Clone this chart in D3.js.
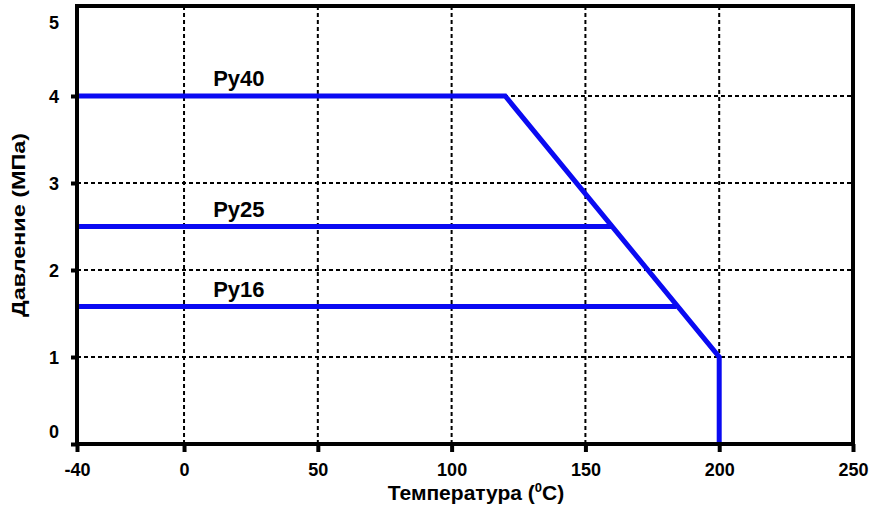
<!DOCTYPE html>
<html><head><meta charset="utf-8">
<script src="https://cdn.jsdelivr.net/npm/d3@7"></script>
<style>body{margin:0;background:#fff;} svg{display:block;} text{font-family:"Liberation Sans",Arial,sans-serif;font-weight:bold;}</style>
</head><body>
<svg id="c" width="871" height="511"></svg>
<script>
const xTicks = [-40, 0, 50, 100, 150, 200, 250];
const yTicks = [0, 1, 2, 3, 4, 5];
const seriesNames = ["Py40", "Py25", "Py16"];
const py40Temp = [-40, 120, 200, 200];
const py40Press = [4, 4, 1, 0];
const py25Temp = [-40, 160];
const py25Press = [2.5, 2.5];
const py16Temp = [-40, 184];
const py16Press = [1.58, 1.58];
const labelTemp = [20.5, 20.5, 20.5];
const labelPress = [4, 2.5, 1.58];
const xTitle = "Температура (";
const yTitle = "Давление (МПа)";

const svg = d3.select("#c");
const L = 77, R = 853, T = 6, B = 444;
const x = d3.scaleLinear().domain([-40, 250]).range([L, R]);
const y = d3.scaleLinear().domain([0, 5]).range([B, 9]);

// grid
svg.append("g").selectAll("line").data(xTicks.filter(d => d > -40 && d < 250)).join("line")
  .attr("x1", d => x(d)).attr("x2", d => x(d)).attr("y1", T).attr("y2", B)
  .attr("stroke", "#000").attr("stroke-width", 2).attr("stroke-dasharray", "4,3");
svg.append("g").selectAll("line").data(yTicks.filter(d => d > 0 && d < 5)).join("line")
  .attr("x1", L).attr("x2", R).attr("y1", d => y(d)).attr("y2", d => y(d))
  .attr("stroke", "#000").attr("stroke-width", 2).attr("stroke-dasharray", "4,3");

// series
const line = d3.line().x(d => x(d[0])).y(d => y(d[1]));
const series = [
  d3.zip(py40Temp, py40Press),
  d3.zip(py25Temp, py25Press),
  d3.zip(py16Temp, py16Press)
];
svg.append("g").selectAll("path").data(series).join("path")
  .attr("d", line).attr("fill", "none").attr("stroke", "#0a0af2")
  .attr("stroke-width", 5).attr("stroke-linejoin", "miter");

// frame
svg.append("rect").attr("x", L).attr("y", T).attr("width", R - L).attr("height", B - T)
  .attr("fill", "none").attr("stroke", "#000").attr("stroke-width", 4);

// axes
const xAxis = d3.axisBottom(x).tickValues(xTicks).tickSize(8).tickFormat(d => String(d));
const gx = svg.append("g").attr("transform", `translate(0,${B})`).call(xAxis);
gx.attr("font-family", null).attr("font-size", null);
gx.select(".domain").remove();
gx.selectAll(".tick line").attr("stroke", "#000").attr("stroke-width", 4);
gx.selectAll(".tick text").attr("font-size", 18).attr("fill", "#000").attr("y", 32).attr("dy", null);

const yAxis = d3.axisLeft(y).tickValues(yTicks).tickSize(6).tickFormat(d => String(d));
const gy = svg.append("g").attr("transform", `translate(${L},0)`).call(yAxis);
gy.attr("font-family", null).attr("font-size", null);
gy.select(".domain").remove();
gy.selectAll(".tick line").filter(d => d === 5).remove();
gy.selectAll(".tick text").attr("text-anchor", "middle");
gy.selectAll(".tick line").attr("stroke", "#000").attr("stroke-width", 4);
gy.selectAll(".tick text").attr("font-size", 18).attr("fill", "#000").attr("x", -23)
  .attr("dy", d => d === 0 ? "-0.35em" : d === 5 ? "1.1em" : "0.36em");

// series labels
svg.append("g").selectAll("text").data(seriesNames).join("text")
  .attr("x", (d, i) => x(labelTemp[i]))
  .attr("y", (d, i) => y(labelPress[i]) - 10)
  .attr("text-anchor", "middle").attr("font-size", 22).attr("fill", "#000")
  .text(d => d);

// titles
const xt = svg.append("text").attr("x", 476).attr("y", 500).attr("text-anchor", "middle")
  .attr("font-size", 21).attr("fill", "#000");
xt.append("tspan").text(xTitle);
xt.append("tspan").attr("font-size", 13).attr("dy", -8).text("0");
xt.append("tspan").attr("dy", 8).text("C)");

svg.append("text").attr("transform", "translate(25,225) rotate(-90)").attr("text-anchor", "middle")
  .attr("font-size", 18).attr("fill", "#000")
  .attr("textLength", 184).attr("lengthAdjust", "spacingAndGlyphs").text(yTitle);
</script>
</body></html>
